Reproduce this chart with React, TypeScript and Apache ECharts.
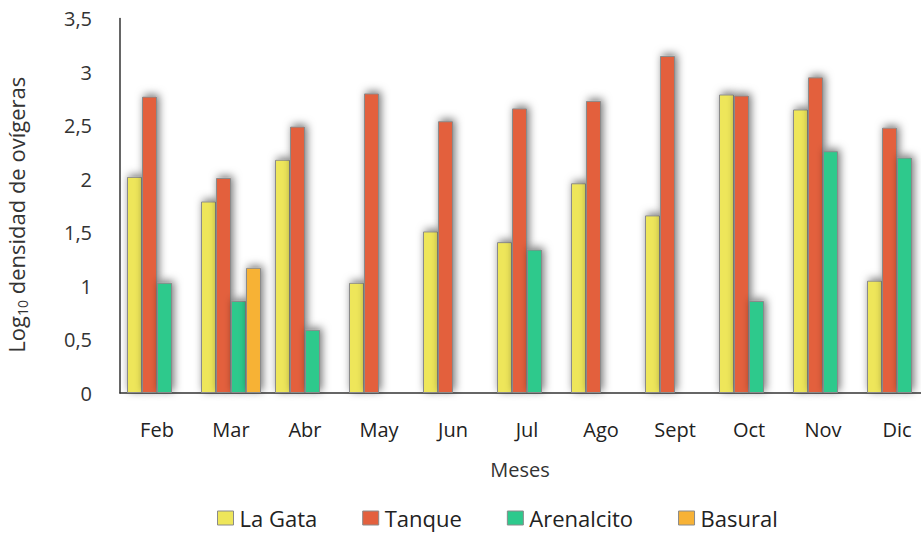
import React, { useEffect, useRef } from "react";
import * as echarts from "echarts";

const months = ["Feb", "Mar", "Abr", "May", "Jun", "Jul", "Ago", "Sept", "Oct", "Nov", "Dic"];
const laGata = [2.02, 1.79, 2.18, 1.03, 1.51, 1.41, 1.96, 1.66, 2.79, 2.65, 1.05];
const tanque = [2.77, 2.01, 2.49, 2.8, 2.54, 2.66, 2.73, 3.15, 2.78, 2.95, 2.48];
const arenalcito = [1.03, 0.86, 0.59, null, null, 1.34, null, null, 0.86, 2.26, 2.2];
const basural = [null, 1.17, null, null, null, null, null, null, null, null, null];
const yTicks = { min: 0, max: 3.5, interval: 0.5 };

const FONT = "'Open Sans', sans-serif";

export default function App() {
  const ref = useRef<HTMLDivElement>(null);
  useEffect(() => {
    if (!ref.current) return;
    const chart = echarts.init(ref.current, undefined, { renderer: "svg" });
    const bar = (name: string, data: (number | null)[], color: string) => ({
      name,
      type: "bar",
      data,
      barWidth: 15,
      barGap: "0%",
      itemStyle: {
        color,
        borderColor: "#8a8a8a",
        borderWidth: 1,
        shadowBlur: 9,
        shadowColor: "rgba(0,0,0,0.55)",
        shadowOffsetX: 2,
        shadowOffsetY: -2,
      },
    });
    chart.setOption({
      animation: false,
      textStyle: { fontFamily: FONT },
      grid: {
        left: 120,
        width: 814,
        top: 18.5,
        height: 374.5,
        containLabel: false,
        outerBoundsMode: "none",
      },
      legend: {
        left: 217,
        top: 506,
        padding: 0,
        icon: "rect",
        itemWidth: 16,
        itemHeight: 14,
        itemGap: 45,
        itemStyle: { borderColor: "#8a8a8a", borderWidth: 1 },
        textStyle: { fontFamily: FONT, fontSize: 22, lineHeight: 24, color: "#222", padding: [0, 0, 0, 1] },
        data: ["La Gata", "Tanque", "Arenalcito", "Basural"],
      },
      xAxis: {
        type: "category",
        data: months,
        name: "Meses",
        nameLocation: "middle",
        nameGap: 66,
        nameTextStyle: { fontFamily: FONT, fontSize: 20, color: "#333", padding: [0, 14, 0, 0] },
        axisLine: { lineStyle: { color: "#333", width: 1.5 } },
        axisTick: { show: false },
        axisLabel: { fontFamily: FONT, fontSize: 20, color: "#222", margin: 26 },
      },
      yAxis: {
        type: "value",
        min: yTicks.min,
        max: yTicks.max,
        interval: yTicks.interval,
        name: "{a|Log}{b|10}{a| densidad de ovígeras}",
        nameLocation: "middle",
        nameGap: 90,
        nameTextStyle: {
          padding: [0, 18, 0, 0],
          rich: {
            a: { fontFamily: FONT, fontSize: 22, color: "#333", lineHeight: 28 },
            b: { fontFamily: FONT, fontSize: 14, color: "#333", lineHeight: 28, padding: [12, 0, 0, 0] },
          },
        },
        splitLine: { show: false },
        axisTick: { show: false },
        axisLine: { show: true, lineStyle: { color: "#333", width: 1.5 } },
        axisLabel: {
          fontFamily: FONT,
          fontSize: 20,
          color: "#333",
          margin: 28,
          formatter: (v: number) => String(v).replace(".", ","),
        },
      },
      series: [
        bar("La Gata", laGata, "#EEE65A"),
        bar("Tanque", tanque, "#E3603E"),
        bar("Arenalcito", arenalcito, "#2DC98C"),
        bar("Basural", basural, "#F7B236"),
      ],
    });
    return () => chart.dispose();
  }, []);
  return <div ref={ref} style={{ width: 921, height: 533, position: "absolute", left: 0, top: 0 }} />;
}
